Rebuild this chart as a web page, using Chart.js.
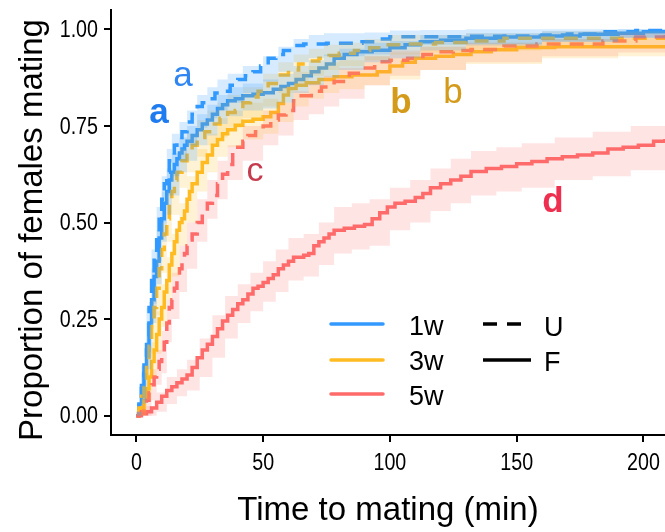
<!DOCTYPE html>
<html>
<head>
<meta charset="utf-8">
<script src="https://cdn.jsdelivr.net/npm/chart.js@4.4.1/dist/chart.umd.min.js"></script>
<style>
  html, body { margin: 0; padding: 0; background: #fff; }
  #wrap { width: 665px; height: 532px; }
</style>
</head>
<body>
<div id="wrap"><canvas id="c" width="665" height="532"></canvas></div>
<script>
// ---------- tick labels ----------
const xTicks = [0, 50, 100, 150, 200];
const yTicks = [0, 0.25, 0.5, 0.75, 1];

// ---------- 1w F (blue solid) ----------
const w1F_t = [0,1,2,3,4,5,6,7,8,9,10,11,12,13,14,15,16,17,18,19,20,22,24,26,28,30,32,34,36,39,42,46,50,54,57,60,63,66,69,72,75,78,82,87,93,100,106,112,120,130,145,160,175,190,200,208.5];
const w1F_p = [0,0.03,0.07,0.11,0.17,0.24,0.30,0.36,0.40,0.46,0.51,0.55,0.58,0.61,0.63,0.65,0.665,0.68,0.69,0.70,0.71,0.725,0.74,0.755,0.765,0.78,0.795,0.805,0.815,0.82,0.828,0.832,0.836,0.845,0.852,0.86,0.87,0.88,0.89,0.90,0.91,0.925,0.935,0.942,0.946,0.952,0.96,0.968,0.972,0.977,0.98,0.983,0.987,0.99,0.994,0.996];

// ---------- 1w U (blue dashed) ----------
const w1U_t = [0,1,2,3,4,5,6,7,8,9,10,11,12,13,14,15,16,17,18,20,22,24,26,28,31,34,37,40,43,46,49,52,55,58,62,66,75,89,95,100,115,130,145,160,170,184,197,208.5];
const w1U_p = [0,0.04,0.09,0.14,0.21,0.28,0.35,0.41,0.47,0.52,0.56,0.60,0.63,0.66,0.68,0.70,0.71,0.72,0.735,0.76,0.78,0.80,0.81,0.82,0.835,0.84,0.855,0.87,0.88,0.89,0.905,0.925,0.935,0.945,0.958,0.962,0.964,0.968,0.975,0.981,0.981,0.982,0.983,0.985,0.988,0.994,0.997,1.0];

// ---------- 3w F (orange solid) ----------
const w3F_t = [0,1,2,3,4,5,6,7,8,9,10,11,12,13,14,15,16,17,18,19,20,21,22,24,26,28,30,32,34,36,39,42,46,50,53,56,58,60,63,67,72,78,85,95,100,105,110,118,125,132,140,150,165,185,208.5];
const w3F_p = [0,0.01,0.02,0.04,0.07,0.10,0.14,0.17,0.21,0.25,0.28,0.32,0.35,0.39,0.42,0.45,0.48,0.50,0.51,0.53,0.56,0.58,0.60,0.63,0.655,0.675,0.70,0.715,0.73,0.74,0.752,0.762,0.767,0.774,0.785,0.808,0.83,0.847,0.855,0.862,0.87,0.877,0.882,0.89,0.905,0.915,0.925,0.93,0.935,0.942,0.947,0.953,0.955,0.955,0.957];

// ---------- 3w U (orange dashed) ----------
const w3U_t = [0,1,2,3,4,5,6,7,8,9,10,11,12,13,14,15,16,18,20,22,24,27,30,33,36,39,42,45,48,52,56,60,64,68,72,76,80,86,92,97,105,118,130,145,170,208.5];
const w3U_p = [0,0.02,0.05,0.09,0.13,0.18,0.23,0.28,0.33,0.38,0.43,0.47,0.51,0.55,0.58,0.61,0.63,0.66,0.685,0.70,0.72,0.735,0.755,0.77,0.785,0.79,0.81,0.825,0.84,0.86,0.882,0.895,0.91,0.918,0.925,0.932,0.938,0.945,0.952,0.96,0.962,0.966,0.97,0.977,0.977,0.977];

// ---------- 5w U (red dashed) ----------
const w5U_t = [0,1,2,3,4,5,6,7,8,9,10,11,12,13,14,15,16,17,18,19,20,21,22,24,26,28,30,32,34,36,38,40,42,44,47,50,53,56,59,62,65,69,73,78,84,89,94,100,107,113,119,125,132,145,158,171,184,197,208.5];
const w5U_p = [0,0.005,0.01,0.02,0.04,0.06,0.08,0.10,0.12,0.14,0.16,0.19,0.24,0.28,0.30,0.33,0.36,0.38,0.40,0.42,0.44,0.455,0.47,0.50,0.53,0.55,0.57,0.60,0.625,0.65,0.68,0.695,0.71,0.725,0.735,0.75,0.765,0.778,0.79,0.815,0.828,0.84,0.851,0.865,0.886,0.9,0.916,0.92,0.925,0.935,0.942,0.945,0.948,0.957,0.962,0.962,0.97,0.98,0.985];

// ---------- 5w F (red solid) ----------
const w5F_t = [0,2,4,6,8,10,12,14,16,18,20,22,24,26,28,30,32,34,36,38,40,42,44,46,48,50,52,54,56,58,60,62,66,68,70,72,74,76,78,82,86,90,93,96,99,102,106,110,113,116,120,124,128,132,138,144,150,156,162,168,174,180,186,192,198,204,208.5];
const w5F_p = [0,0.005,0.01,0.02,0.035,0.05,0.065,0.075,0.085,0.095,0.105,0.125,0.15,0.17,0.185,0.205,0.225,0.245,0.26,0.275,0.29,0.30,0.315,0.33,0.335,0.345,0.355,0.365,0.38,0.39,0.40,0.41,0.415,0.42,0.44,0.45,0.46,0.47,0.48,0.485,0.49,0.495,0.51,0.525,0.54,0.55,0.555,0.565,0.575,0.59,0.60,0.61,0.62,0.632,0.64,0.645,0.652,0.658,0.665,0.67,0.675,0.68,0.69,0.695,0.70,0.71,0.716];

// ---------- confidence bands ----------
const band_t = [0,2,4,6,8,10,12,14,17,20,24,28,32,36,42,50,56,62,68,74,80,90,100,112,130,160,190,208.5];
const w1F_lo = [0,0.03,0.12,0.24,0.34,0.45,0.52,0.57,0.63,0.66,0.70,0.725,0.755,0.775,0.79,0.795,0.81,0.835,0.855,0.875,0.895,0.915,0.925,0.945,0.958,0.968,0.978,0.985];
const w1F_hi = [0.01,0.11,0.24,0.38,0.48,0.58,0.64,0.68,0.72,0.75,0.78,0.805,0.83,0.85,0.86,0.87,0.885,0.905,0.92,0.935,0.95,0.965,0.97,0.985,0.99,0.995,1.0,1.0];
const w1U_lo = [0,0.04,0.15,0.29,0.40,0.50,0.57,0.62,0.66,0.70,0.745,0.77,0.79,0.81,0.835,0.865,0.89,0.915,0.925,0.93,0.93,0.935,0.955,0.96,0.962,0.968,0.978,0.99];
const w1U_hi = [0.01,0.13,0.28,0.43,0.54,0.62,0.69,0.73,0.76,0.79,0.83,0.85,0.87,0.885,0.905,0.93,0.955,0.975,0.985,0.99,0.99,0.992,0.997,0.998,1.0,1.0,1.0,1.0];
const w3F_lo = [0,0.0,0.04,0.10,0.16,0.23,0.30,0.36,0.44,0.50,0.58,0.63,0.67,0.695,0.715,0.73,0.76,0.80,0.82,0.835,0.845,0.855,0.87,0.895,0.91,0.925,0.93,0.935];
const w3F_hi = [0.01,0.05,0.11,0.19,0.27,0.34,0.41,0.47,0.55,0.62,0.69,0.73,0.77,0.79,0.81,0.82,0.85,0.89,0.905,0.915,0.92,0.93,0.94,0.955,0.965,0.975,0.978,0.98];
const w3U_lo = [0,0.01,0.06,0.16,0.26,0.37,0.45,0.52,0.59,0.63,0.67,0.70,0.72,0.745,0.77,0.80,0.835,0.86,0.88,0.895,0.905,0.92,0.935,0.94,0.945,0.955,0.955,0.955];
const w3U_hi = [0.01,0.08,0.18,0.30,0.41,0.50,0.58,0.63,0.69,0.73,0.765,0.79,0.81,0.83,0.85,0.885,0.915,0.935,0.95,0.96,0.965,0.975,0.985,0.985,0.99,0.995,0.995,0.995];
const w5U_lo = [0,0,0,0.04,0.08,0.11,0.19,0.25,0.32,0.38,0.45,0.51,0.56,0.61,0.66,0.70,0.725,0.765,0.78,0.80,0.82,0.855,0.88,0.895,0.915,0.93,0.94,0.96];
const w5U_hi = [0.01,0.03,0.06,0.12,0.17,0.22,0.30,0.37,0.44,0.50,0.56,0.61,0.66,0.70,0.75,0.79,0.81,0.84,0.86,0.88,0.90,0.93,0.945,0.955,0.965,0.975,0.99,1.0];
const band5F_t = [0,4,8,12,16,20,25,30,35,40,45,50,55,60,66,72,78,85,92,100,108,116,124,132,142,152,165,180,195,208.5];
const w5F_lo = [0,0,0.01,0.03,0.05,0.065,0.10,0.15,0.20,0.24,0.27,0.295,0.32,0.35,0.36,0.39,0.42,0.43,0.44,0.48,0.50,0.53,0.55,0.57,0.58,0.59,0.61,0.62,0.635,0.655];
const w5F_hi = [0.005,0.025,0.06,0.10,0.12,0.145,0.20,0.26,0.31,0.34,0.37,0.40,0.43,0.46,0.47,0.50,0.54,0.55,0.56,0.59,0.61,0.64,0.665,0.685,0.695,0.705,0.72,0.735,0.75,0.775];

// ---------- styles ----------
const BLUE = '#3399FF', ORANGE = '#FFBC22', RED = '#FF6B6B';
const BLUE_F = 'rgba(51,153,255,0.2)', ORANGE_F = 'rgba(255,188,34,0.19)', RED_F = 'rgba(255,107,107,0.18)';
const FONT = '"Liberation Sans", Arial, sans-serif';

function pts(t, p) { return t.map((v, i) => ({ x: v, y: p[i] })); }

function lineDS(t, p, color, dashed, order) {
  return {
    data: pts(t, p), borderColor: color, borderWidth: 3.5, borderDash: dashed ? [14, 9] : [],
    stepped: 'before', pointRadius: 0, fill: false, order: order, tension: 0,
    borderCapStyle: 'butt', borderJoinStyle: 'miter'
  };
}
function bandPair(t, lo, hi, color) {
  return [
    { data: pts(t, hi), borderColor: 'rgba(0,0,0,0)', borderWidth: 0, backgroundColor: color,
      stepped: 'before', pointRadius: 0, fill: '+1', order: 1 },
    { data: pts(t, lo), borderColor: 'rgba(0,0,0,0)', borderWidth: 0,
      stepped: 'before', pointRadius: 0, fill: false, order: 1 }
  ];
}

// higher order = drawn earlier (underneath); bands (order 1) are drawn over the lines like the ggplot ribbons
const datasets = [
  lineDS(w1U_t, w1U_p, BLUE, true, 4),
  lineDS(w1F_t, w1F_p, BLUE, false, 4),
  lineDS(w3U_t, w3U_p, ORANGE, true, 3),
  lineDS(w3F_t, w3F_p, ORANGE, false, 3),
  lineDS(w5U_t, w5U_p, RED, true, 2),
  lineDS(w5F_t, w5F_p, RED, false, 2),
  ...bandPair(band_t, w1U_lo, w1U_hi, BLUE_F),
  ...bandPair(band_t, w1F_lo, w1F_hi, BLUE_F),
  ...bandPair(band_t, w3U_lo, w3U_hi, ORANGE_F),
  ...bandPair(band_t, w3F_lo, w3F_hi, ORANGE_F),
  ...bandPair(band_t, w5U_lo, w5U_hi, RED_F),
  ...bandPair(band5F_t, w5F_lo, w5F_hi, RED_F)
];

const overlay = {
  id: 'overlay',
  afterDraw(chart) {
    const ctx = chart.ctx;
    const xs = chart.scales.x, ys = chart.scales.y;
    ctx.save();
    ctx.fillStyle = '#000';

    // condensed tick labels, positioned by the library's scales
    ctx.font = '24px ' + FONT;
    ctx.textBaseline = 'middle';
    ctx.textAlign = 'center';
    xTicks.forEach(v => {
      const px = xs.getPixelForValue(v);
      ctx.save(); ctx.translate(px, 463); ctx.scale(0.82, 1);
      ctx.fillText(String(v), 0, 0); ctx.restore();
    });
    ctx.textAlign = 'right';
    yTicks.forEach(v => {
      const py = ys.getPixelForValue(v);
      ctx.save(); ctx.translate(98, py + 1); ctx.scale(0.82, 1);
      ctx.fillText(v.toFixed(2), 0, 0); ctx.restore();
    });

    // axis titles
    ctx.font = '33px ' + FONT;
    ctx.textAlign = 'center';
    ctx.textBaseline = 'middle';
    ctx.fillText('Time to mating (min)', 388, 511);
    ctx.save();
    ctx.translate(33, 230);
    ctx.rotate(-Math.PI / 2);
    ctx.fillText('Proportion of females mating', 0, 0);
    ctx.restore();

    // legend: colours
    const legC = [['1w', BLUE, 324, 335], ['3w', ORANGE, 360, 370], ['5w', RED, 394, 405]];
    ctx.lineCap = 'round';
    ctx.lineWidth = 3.5;
    ctx.font = '27px ' + FONT;
    ctx.textAlign = 'left';
    ctx.textBaseline = 'alphabetic';
    legC.forEach(([lab, col, y, yb]) => {
      ctx.strokeStyle = col;
      ctx.beginPath(); ctx.moveTo(331, y); ctx.lineTo(383, y); ctx.stroke();
      ctx.fillStyle = '#000';
      ctx.fillText(lab, 409, yb);
    });
    // legend: line types
    ctx.lineCap = 'butt';
    ctx.strokeStyle = '#000';
    ctx.lineWidth = 3.5;
    ctx.setLineDash([14, 10]);
    ctx.beginPath(); ctx.moveTo(483, 324); ctx.lineTo(531, 324); ctx.stroke();
    ctx.setLineDash([]);
    ctx.beginPath(); ctx.moveTo(483, 360); ctx.lineTo(531, 360); ctx.stroke();
    ctx.fillStyle = '#000';
    ctx.fillText('U', 544, 336);
    ctx.fillText('F', 544, 371);

    // significance letters
    const letters = [
      ['a', 159, 123, 'bold 35px ', '#1F7BF0'],
      ['a', 183, 86, '35px ', '#2F86F2'],
      ['c', 255, 181, '34px ', '#C63B4E'],
      ['b', 401, 113, 'bold 35px ', '#D49A1A'],
      ['b', 453, 103, '35px ', '#D49A1A'],
      ['d', 553, 212, 'bold 35px ', '#EE2F4F']
    ];
    ctx.textAlign = 'center';
    letters.forEach(([s, x, y, f, col]) => {
      ctx.font = f + FONT;
      ctx.fillStyle = col;
      ctx.fillText(s, x, y);
    });
    ctx.restore();
  }
};

function noPad(s) { s.paddingTop = 0; s.paddingBottom = 0; s.paddingLeft = 0; s.paddingRight = 0; }

new Chart(document.getElementById('c'), {
  type: 'line',
  data: { datasets },
  options: {
    responsive: false,
    animation: false,
    devicePixelRatio: 1,
    layout: { padding: { top: 10, right: 0, left: 0, bottom: 0 } },
    plugins: { legend: { display: false }, tooltip: { enabled: false } },
    scales: {
      x: {
        type: 'linear', min: -10, max: 208.5,
        afterBuildTicks: s => { s.ticks = xTicks.map(v => ({ value: v })); },
        afterFit: s => { s.height = 97; noPad(s); },
        ticks: { display: false },
        grid: { drawOnChartArea: false, drawTicks: true, tickLength: 7, color: '#000', lineWidth: 2 },
        border: { display: true, color: '#000', width: 2 }
      },
      y: {
        type: 'linear', min: -0.05, max: 1.05,
        afterBuildTicks: s => { s.ticks = yTicks.map(v => ({ value: v })); },
        afterFit: s => { s.width = 111; noPad(s); },
        ticks: { display: false },
        grid: { drawOnChartArea: false, drawTicks: true, tickLength: 7, color: '#000', lineWidth: 2 },
        border: { display: true, color: '#000', width: 2 }
      }
    }
  },
  plugins: [overlay]
});
</script>
</body>
</html>
